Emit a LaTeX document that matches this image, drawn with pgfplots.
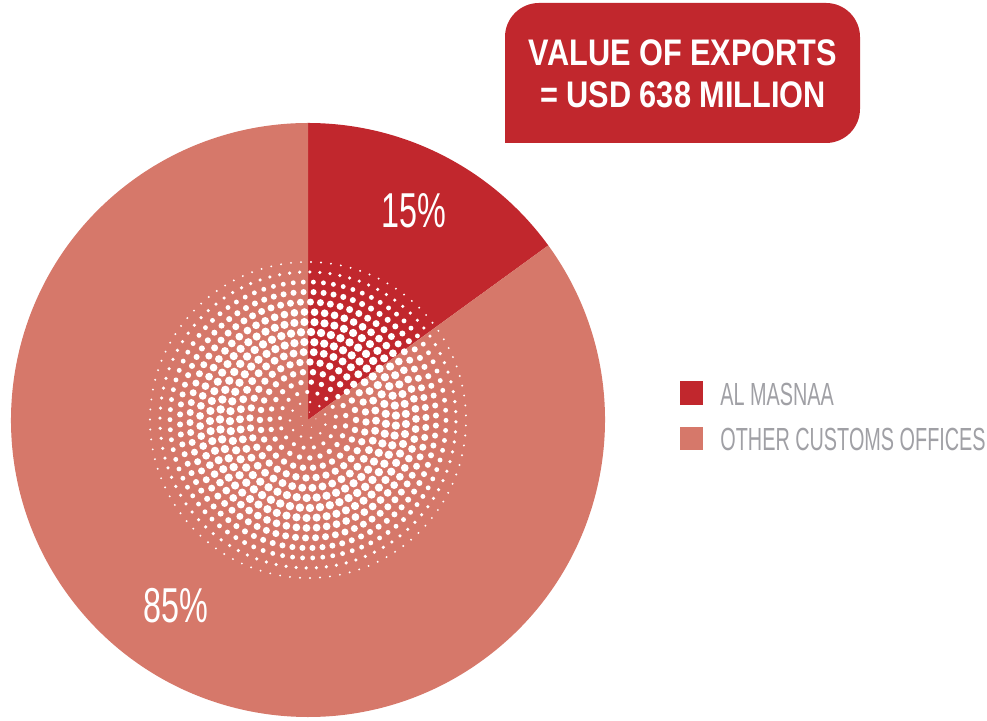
\documentclass[border=0pt]{standalone}
\usepackage{pgfplots}
\pgfplotsset{compat=1.18}
\usepackage{fontspec}
\setmainfont{Liberation Sans}
\newfontfamily\titlefont[FakeStretch=0.83]{Liberation Sans}
\newfontfamily\pctfont[FakeStretch=0.66]{Liberation Sans}
\newfontfamily\legfont[FakeStretch=0.62]{Liberation Sans}
\definecolor{cA}{HTML}{C1272D}
\definecolor{cB}{HTML}{D6786A}
\definecolor{cT}{HTML}{A0A0A5}
% data: share of export value (%)
\def\valA{15}   % AL MASNAA
\def\valB{85}   % OTHER CUSTOMS OFFICES
\begin{document}
\begin{tikzpicture}
\path[use as bounding box] (0,0) rectangle (493.5pt,360.5pt);
\pgfmathsetmacro\angA{90-3.6*\valA}
\pgfmathsetmacro\angB{\angA-3.6*\valB}
\begin{axis}[at={(0,0)}, anchor=south west, scale only axis,
  x=0.5pt, y=0.5pt, xmin=0, xmax=987, ymin=0, ymax=721, hide axis, clip=false]
  \coordinate (c) at (axis cs:308,301);
  \fill[cA] (axis cs:308,301) -- ++(90:148.5pt) arc[start angle=90, end angle=\angA, radius=148.5pt] -- cycle;
  \fill[cB] (axis cs:308,301) -- ++(\angA:148.5pt) arc[start angle=\angA, end angle=\angB, radius=148.5pt] -- cycle;
  % title box
  \fill[cA] (axis cs:505,578) [rounded corners=17pt] -- (axis cs:505,718) -- (axis cs:860,718) -- (axis cs:860,578) [sharp corners] -- cycle;
  \node[anchor=base, text=white, font=\titlefont\bfseries\fontsize{18.5pt}{20pt}\selectfont, inner sep=0pt] at (axis cs:683,655) {VALUE OF EXPORTS};
  \node[anchor=base, text=white, font=\titlefont\bfseries\fontsize{18.5pt}{20pt}\selectfont, inner sep=0pt] at (axis cs:683,613) {= USD 638 MILLION};
  % legend
  \fill[cA] (axis cs:680,316) rectangle (axis cs:703,340);
  \fill[cB] (axis cs:680,271) rectangle (axis cs:703,294);
  \node[anchor=base west, text=cT, font=\legfont\fontsize{16pt}{19pt}\selectfont, inner sep=0pt] at (axis cs:720,315) {AL MASNAA};
  \node[anchor=base west, text=cT, font=\legfont\fontsize{16pt}{19pt}\selectfont, inner sep=0pt] at (axis cs:720,270) {OTHER CUSTOMS OFFICES};
\end{axis}
% decorative halftone dots
\foreach \r in {8,18,...,158} {
  \pgfmathtruncatemacro\n{2*pi*\r/10}
  \pgfmathsetmacro\s{2.1*sin(\r/172*180)}
  \foreach \k in {1,...,\n} {
    \pgfmathsetmacro\a{\k/\n*360+\r}
    \fill[white] (c) ++(\a:{\r*0.5pt}) circle[radius=\s pt];
  }
}
\node[anchor=base, text=white, font=\pctfont\fontsize{24.5pt}{28pt}\selectfont, inner sep=0pt] at (207pt,246.5pt) {15\%};
\node[anchor=base, text=white, font=\pctfont\fontsize{24.5pt}{28pt}\selectfont, inner sep=0pt] at (88pt,49pt) {85\%};
\end{tikzpicture}
\end{document}
